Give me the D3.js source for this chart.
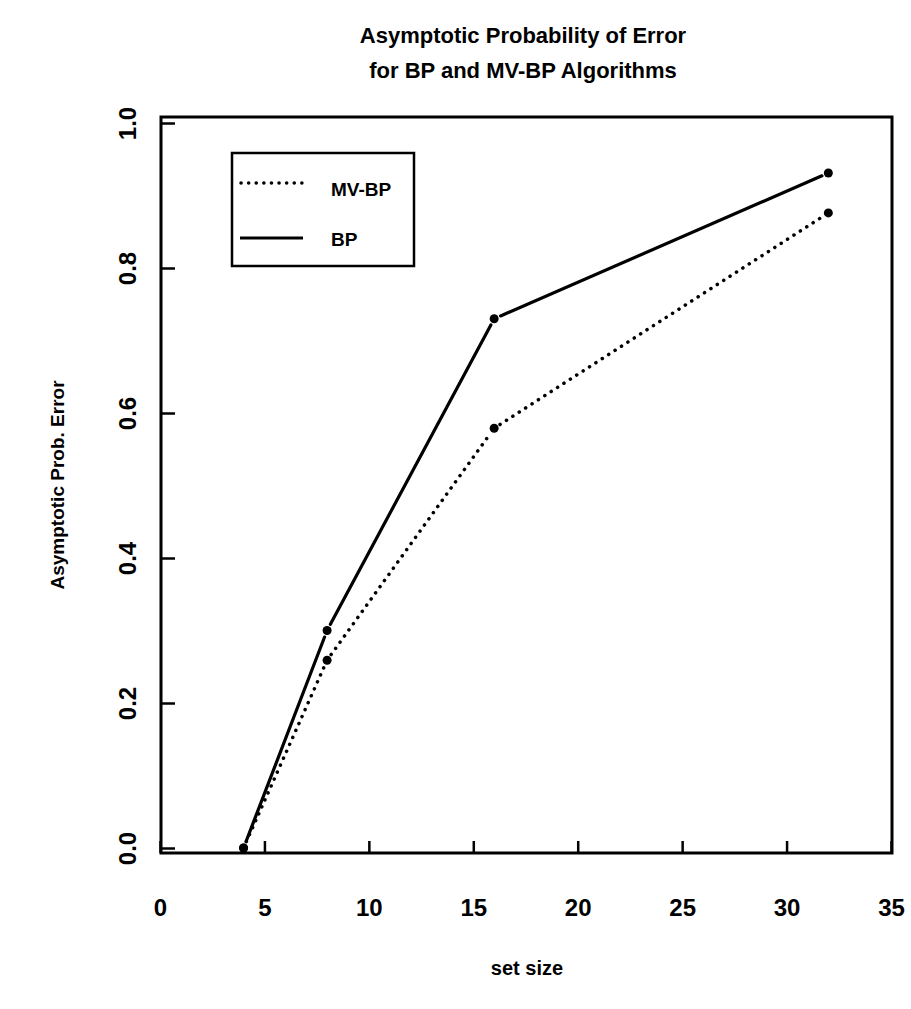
<!DOCTYPE html>
<html>
<head>
<meta charset="utf-8">
<script src="https://cdn.jsdelivr.net/npm/d3@7"></script>
<style>
  body { margin: 0; background: #fff; }
  svg text { font-family: "Liberation Sans", Arial, sans-serif; font-weight: bold; fill: #000; }
</style>
</head>
<body>
<svg id="app" width="911" height="1009"></svg>
<script>
// data
const setSizes = [4, 8, 16, 32];
const bpValues = [0.0, 0.30, 0.73, 0.931];
const mvbpValues = [0.0, 0.259, 0.579, 0.876];
const xTicks = [0, 5, 10, 15, 20, 25, 30, 35];
const yTicks = [0, 0.2, 0.4, 0.6, 0.8, 1.0];
const titleLines = ["Asymptotic Probability of Error", "for BP and MV-BP Algorithms"];

const BOX = { LEFT: 161, RIGHT: 892, TOP: 117, BOTTOM: 853 };

var svg = d3.select("#app");

// scales
const xScale = d3.scaleLinear().domain([0, 35]).range([160, 891]);
const yScale = d3.scaleLinear().domain([0, 1]).range([848, 123]);

// box around the plot
svg.append("rect")
  .attr("x", BOX.LEFT).attr("y", BOX.TOP)
  .attr("width", BOX.RIGHT - BOX.LEFT).attr("height", BOX.BOTTOM - BOX.TOP)
  .attr("fill", "none").attr("stroke", "#000").attr("stroke-width", 3);

// x axis: ticks point inward
var gx = svg.append("g")
  .attr("transform", `translate(0,${BOX.BOTTOM})`)
  .call(d3.axisBottom(xScale).tickValues(xTicks).tickSizeInner(-12).tickSizeOuter(0).tickPadding(46).tickFormat(d3.format("d")));
gx.select(".domain").remove();
gx.selectAll("line").attr("stroke", "#000").attr("stroke-width", 2.5);
gx.selectAll("text").style("font-size", "24px");

// y axis
var gy = svg.append("g")
  .attr("transform", `translate(${BOX.LEFT},0)`)
  .call(d3.axisLeft(yScale).tickValues(yTicks).tickSizeInner(-14).tickSizeOuter(0).tickFormat(d3.format(".1f")));
gy.select(".domain").remove();
gy.selectAll("line").attr("stroke", "#000").attr("stroke-width", 2.5);
gy.selectAll("text")
  .attr("transform", "rotate(-90)")
  .attr("x", 0).attr("y", -25).attr("dy", null)
  .attr("text-anchor", "middle")
  .style("font-size", "24px");

// lines with small gaps at the points (type "b")
function drawSeries(values, dash) {
  var pts = setSizes.map((s, i) => [xScale(s), yScale(values[i])]);
  var segs = d3.pairs(pts).map(([a, b]) => {
    var dx = b[0] - a[0], dy = b[1] - a[1], len = Math.hypot(dx, dy), g = 7 / len;
    return [[a[0] + dx * g, a[1] + dy * g], [b[0] - dx * g, b[1] - dy * g]];
  });
  var g = svg.append("g");
  g.selectAll("path").data(segs).enter().append("path")
    .attr("d", d3.line())
    .attr("fill", "none").attr("stroke", "#000")
    .attr("stroke-width", dash ? 3.5 : 3.2)
    .attr("stroke-linecap", "round")
    .attr("stroke-dasharray", dash);
  g.selectAll("circle").data(pts).enter().append("circle")
    .attr("cx", d => d[0]).attr("cy", d => d[1]).attr("r", 4.5).attr("fill", "#000");
}
drawSeries(bpValues, null);
drawSeries(mvbpValues, "0.1 7.5");

// legend
var legend = svg.append("g");
legend.append("rect")
  .attr("x", 232).attr("y", 153).attr("width", 182).attr("height", 113)
  .attr("fill", "#fff").attr("stroke", "#000").attr("stroke-width", 2.5);
legend.append("line").attr("x1", 241).attr("x2", 303).attr("y1", 183).attr("y2", 183)
  .attr("stroke", "#000").attr("stroke-width", 3.5).attr("stroke-linecap", "round").attr("stroke-dasharray", "0.1 7.5");
legend.append("line").attr("x1", 240).attr("x2", 303).attr("y1", 238).attr("y2", 238)
  .attr("stroke", "#000").attr("stroke-width", 3.2);
legend.append("text").attr("x", 331).attr("y", 196).style("font-size", "19px").text("MV-BP");
legend.append("text").attr("x", 331).attr("y", 246).style("font-size", "19px").text("BP");

// title
svg.append("g").selectAll("text").data(titleLines).enter().append("text")
  .attr("x", 523).attr("y", (d, i) => 43 + i * 35)
  .attr("text-anchor", "middle")
  .style("font-size", "22px")
  .text(d => d);

// axis titles
svg.append("text")
  .attr("x", 527).attr("y", 975)
  .attr("text-anchor", "middle")
  .style("font-size", "20px")
  .text("set size");
svg.append("text")
  .attr("transform", `translate(64,${(BOX.TOP + BOX.BOTTOM) / 2}) rotate(-90)`)
  .attr("text-anchor", "middle")
  .style("font-size", "19px")
  .text("Asymptotic Prob. Error");
</script>
</body>
</html>
